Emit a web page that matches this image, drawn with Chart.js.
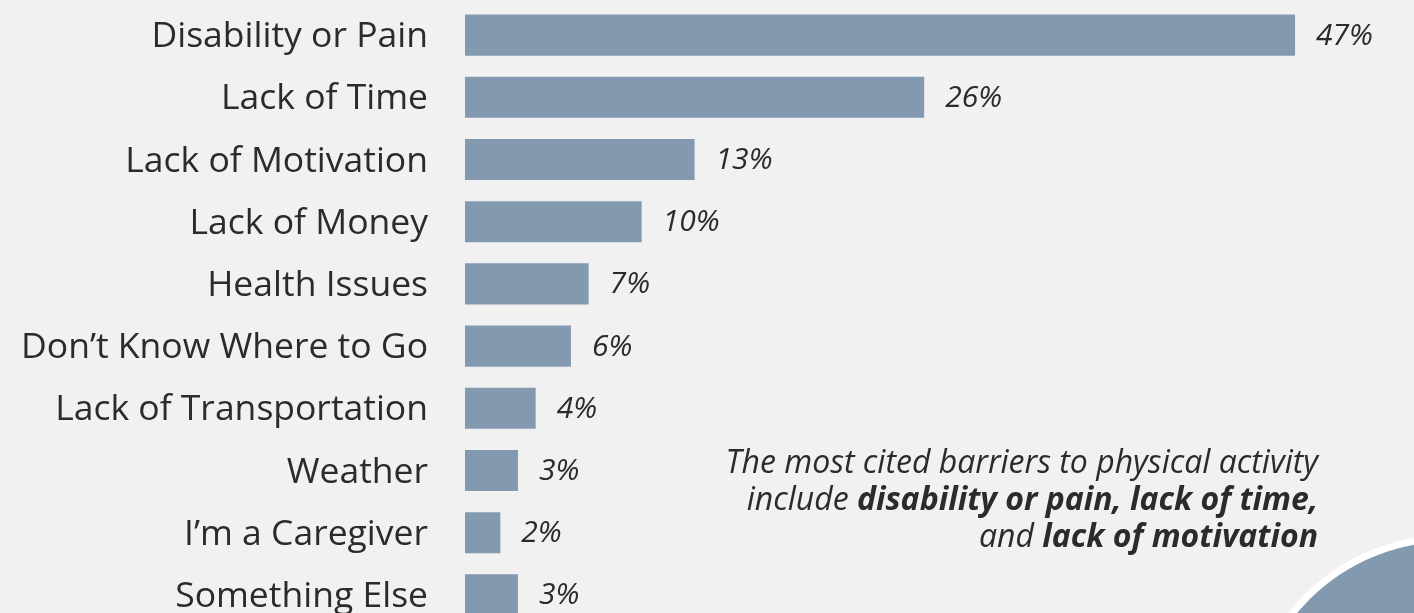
<!DOCTYPE html>
<html>
<head>
<meta charset="utf-8">
<script src="https://cdn.jsdelivr.net/npm/chart.js@4.4.1/dist/chart.umd.min.js"></script>
<style>
  html, body { margin: 0; padding: 0; background: #f1f1f1; overflow: hidden; }
  #wrap { width: 1414px; height: 613px; overflow: hidden; }
</style>
</head>
<body>
<div id="wrap"><canvas id="barChart" width="1414" height="626"></canvas></div>
<script>
const categories = [
  "Disability or Pain",
  "Lack of Time",
  "Lack of Motivation",
  "Lack of Money",
  "Health Issues",
  "Don\u2019t Know Where to Go",
  "Lack of Transportation",
  "Weather",
  "I\u2019m a Caregiver",
  "Something Else"
];
const values = [47, 26, 13, 10, 7, 6, 4, 3, 2, 3];
const valueLabels = values.map(v => v + "%");

// annotation text, [text, bold]
const noteLines = [
  [["The most cited barriers to physical activity", false]],
  [["include ", false], ["disability or pain, lack of time,", true]],
  [["and ", false], ["lack of motivation", true]]
];

const barColor = "#8299b0";
const textColor = "#2b2b2b";
const fontFamily = "'Open Sans', 'Noto Sans', sans-serif";

const valueLabelPlugin = {
  id: "valueLabels",
  afterDatasetsDraw(chart) {
    const ctx = chart.ctx;
    const meta = chart.getDatasetMeta(0);
    ctx.save();
    ctx.fillStyle = textColor;
    ctx.font = "italic 30px " + fontFamily;
    ctx.textAlign = "left";
    ctx.textBaseline = "middle";
    meta.data.forEach((bar, i) => {
      ctx.fillText(valueLabels[i], bar.x + 21, bar.y + 1);
    });
    ctx.restore();
  }
};

const decorPlugin = {
  id: "decor",
  beforeDatasetsDraw(chart) {
    const ctx = chart.ctx;
    ctx.save();
    ctx.beginPath();
    ctx.arc(1450, 741, 203, 0, Math.PI * 2);
    ctx.fillStyle = barColor;
    ctx.fill();
    ctx.lineWidth = 7;
    ctx.strokeStyle = "#ffffff";
    ctx.stroke();
    ctx.restore();
  },
  afterDraw(chart) {
    const ctx = chart.ctx;
    const right = 1318;
    const ys = [464, 501, 538];
    ctx.save();
    ctx.fillStyle = textColor;
    ctx.textBaseline = "middle";
    ctx.textAlign = "left";
    noteLines.forEach((line, li) => {
      let total = 0;
      line.forEach(([t, b]) => {
        ctx.font = (b ? "italic bold " : "italic ") + "32px " + fontFamily;
        total += ctx.measureText(t).width;
      });
      let x = right - total;
      line.forEach(([t, b]) => {
        ctx.font = (b ? "italic bold " : "italic ") + "32px " + fontFamily;
        ctx.fillText(t, x, ys[li]);
        x += ctx.measureText(t).width;
      });
    });
    ctx.restore();
  }
};

new Chart(document.getElementById("barChart"), {
  type: "bar",
  data: {
    labels: categories,
    datasets: [{
      data: values,
      backgroundColor: barColor,
      borderWidth: 0,
      barPercentage: 0.66,
      categoryPercentage: 1
    }]
  },
  options: {
    indexAxis: "y",
    responsive: false,
    animation: false,
    devicePixelRatio: 1,
    layout: { padding: { left: 0, right: 13, top: 4, bottom: 0 } },
    plugins: {
      legend: { display: false },
      tooltip: { enabled: false }
    },
    scales: {
      x: { min: 0, max: 53, display: false },
      y: {
        grid: { display: false, drawTicks: false },
        border: { display: false },
        ticks: {
          color: textColor,
          font: { family: fontFamily, size: 35.5 },
          padding: 37,
          labelOffset: 2
        },
        afterFit(scale) {
          scale.width = 465;
          scale.paddingTop = 0;
          scale.paddingBottom = 0;
        }
      }
    }
  },
  plugins: [decorPlugin, valueLabelPlugin]
});
</script>
</body>
</html>
